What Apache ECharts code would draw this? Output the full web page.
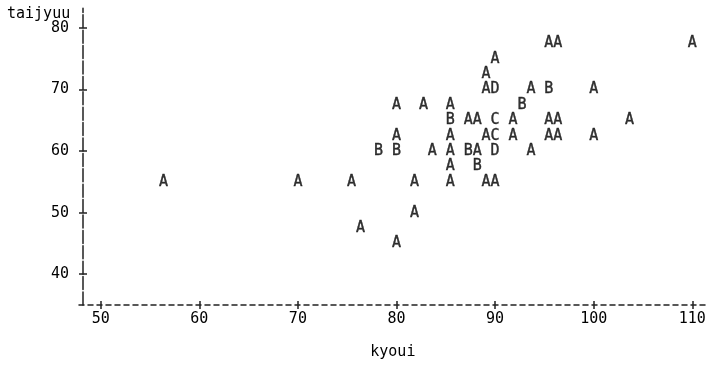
<!DOCTYPE html>
<html>
<head>
<meta charset="utf-8">
<script src="https://cdn.jsdelivr.net/npm/echarts@6/dist/echarts.min.js"></script>
<style>html,body{margin:0;padding:0;background:#fff}#c{width:711px;height:372px}</style>
</head>
<body>
<div id="c"></div>
<script>
// kyoui (x), taijyuu (y), and count of observations at each printed position (1=A, 2=B, 3=C, 4=D)
const kyoui = [
  95.45, 96.36, 110,
  90,
  89.09,
  89.09, 90, 93.64, 95.45, 100,
  80, 82.73, 85.45, 92.73,
  85.45, 87.27, 88.18, 90, 91.82, 95.45, 96.36, 103.64,
  80, 85.45, 89.09, 90, 91.82, 95.45, 96.36, 100,
  78.18, 80, 83.64, 85.45, 87.27, 88.18, 90, 93.64,
  85.45, 88.18,
  56.36, 70, 75.45, 81.82, 85.45, 89.09, 90,
  81.82,
  76.36,
  80
];
const taijyuu = [
  77.5, 77.5, 77.5,
  75,
  72.5,
  70, 70, 70, 70, 70,
  67.5, 67.5, 67.5, 67.5,
  65, 65, 65, 65, 65, 65, 65, 65,
  62.5, 62.5, 62.5, 62.5, 62.5, 62.5, 62.5, 62.5,
  60, 60, 60, 60, 60, 60, 60, 60,
  57.5, 57.5,
  55, 55, 55, 55, 55, 55, 55,
  50,
  47.5,
  45
];
const counts = [
  1, 1, 1,
  1,
  1,
  1, 4, 1, 2, 1,
  1, 1, 1, 2,
  2, 1, 1, 3, 1, 1, 1, 1,
  1, 1, 1, 3, 1, 1, 1, 1,
  2, 2, 1, 1, 2, 1, 4, 1,
  1, 2,
  1, 1, 1, 1, 1, 1, 1,
  1,
  1,
  1
];
const symbolLetters = ['A', 'B', 'C', 'D'];
const xTicks = [50, 60, 70, 80, 90, 100, 110];
const yTicks = [40, 50, 60, 70, 80];

const MONO = '"DejaVu Sans Mono", "Liberation Mono", monospace';
const data = kyoui.map((x, i) => [x, taijyuu[i], counts[i]]);

const chart = echarts.init(document.getElementById('c'));
const axisCol = '#222';
chart.setOption({
  animation: false,
  backgroundColor: '#fff',
  title: {
    text: 'taijyuu', left: 7, top: 7, padding: 0,
    textStyle: { fontFamily: MONO, fontSize: 15, fontWeight: 'normal', color: '#000' }
  },
  grid: { left: 79, right: 4.3, top: 8.3, bottom: 67 },
  xAxis: [{
    type: 'value', min: 47.8, max: 111.46,
    name: 'kyoui', nameLocation: 'middle', nameGap: 40,
    nameTextStyle: { fontFamily: MONO, fontSize: 15, color: '#000' },
    axisLine: { show: true, onZero: false, lineStyle: { color: axisCol, width: 1.5, type: [5, 4] } },
    axisTick: { show: true, inside: false, length: 4, customValues: xTicks, lineStyle: { color: axisCol, width: 1.5 } },
    axisLabel: { show: true, customValues: xTicks, margin: 7, fontFamily: MONO, fontSize: 15, color: '#000' },
    splitLine: { show: false }
  }, {
    type: 'value', min: 47.8, max: 111.46, position: 'bottom',
    axisLine: { show: false },
    axisTick: { show: true, inside: true, length: 4, customValues: xTicks, lineStyle: { color: axisCol, width: 1.5 } },
    axisLabel: { show: false },
    splitLine: { show: false }
  }],
  yAxis: [{
    type: 'value', min: 35, max: 83.2, offset: -4,
    axisLine: { show: true, onZero: false, lineStyle: { color: axisCol, width: 1.5, type: [13, 2.4] } },
    axisTick: { show: true, inside: false, length: 4, customValues: yTicks, lineStyle: { color: axisCol, width: 1.5 } },
    axisLabel: { show: true, customValues: yTicks, margin: 14, fontFamily: MONO, fontSize: 15, color: '#000' },
    splitLine: { show: false }
  }, {
    type: 'value', min: 35, max: 83.2, position: 'left', offset: -4,
    axisLine: { show: false },
    axisTick: { show: true, inside: true, length: 4, customValues: yTicks, lineStyle: { color: axisCol, width: 1.5 } },
    axisLabel: { show: false },
    splitLine: { show: false }
  }],
  series: [{
    type: 'scatter',
    xAxisIndex: 0, yAxisIndex: 0,
    data: data,
    symbolSize: 2,
    itemStyle: { color: 'rgba(0,0,0,0)' },
    label: {
      show: true, position: 'inside',
      formatter: p => symbolLetters[p.value[2] - 1],
      fontFamily: MONO, fontSize: 15, color: '#000',
      textBorderColor: '#000', textBorderWidth: 0.4
    },
    emphasis: { disabled: true }
  }]
});
</script>
</body>
</html>
